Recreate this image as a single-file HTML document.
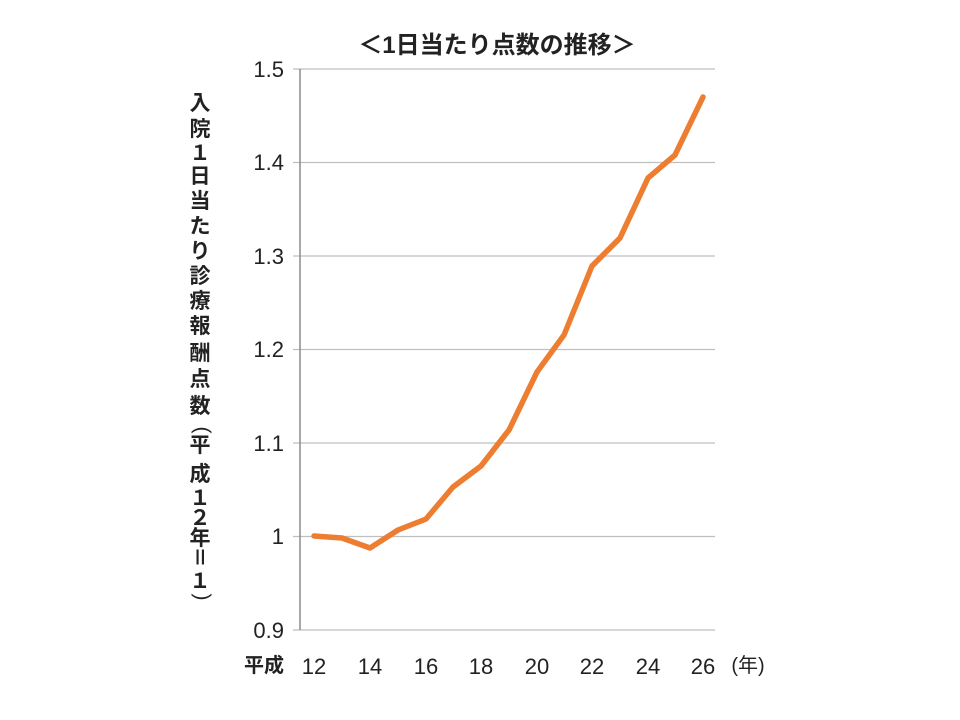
<!DOCTYPE html>
<html><head><meta charset="utf-8"><style>
body{margin:0;background:#fff;width:960px;height:720px;overflow:hidden}
svg{display:block}
text{font-family:"Liberation Sans","Noto Sans CJK JP",sans-serif;fill:#222}
</style></head><body>
<svg width="960" height="720" viewBox="0 0 960 720">
<text x="497" y="53" font-size="24" font-weight="bold" text-anchor="middle">＜1日当たり点数の推移＞</text>
<g stroke="#bfbfbf" stroke-width="1.3">
<line x1="293" y1="69" x2="715" y2="69"/>
<line x1="293" y1="162.5" x2="715" y2="162.5"/>
<line x1="293" y1="256" x2="715" y2="256"/>
<line x1="293" y1="349.5" x2="715" y2="349.5"/>
<line x1="293" y1="443" x2="715" y2="443"/>
<line x1="293" y1="536.5" x2="715" y2="536.5"/>
<line x1="293" y1="630" x2="715" y2="630"/>
</g>
<line x1="300" y1="69" x2="300" y2="630" stroke="#8c8c8c" stroke-width="1.5"/>
<g font-size="22" text-anchor="end">
<text x="284" y="77">1.5</text>
<text x="284" y="170">1.4</text>
<text x="284" y="264">1.3</text>
<text x="284" y="357">1.2</text>
<text x="284" y="451">1.1</text>
<text x="284" y="544">1</text>
<text x="284" y="638">0.9</text>
</g>
<g font-size="22" text-anchor="middle">
<text x="314" y="674">12</text>
<text x="370" y="674">14</text>
<text x="426" y="674">16</text>
<text x="481" y="674">18</text>
<text x="537" y="674">20</text>
<text x="592" y="674">22</text>
<text x="648" y="674">24</text>
<text x="703" y="674">26</text>
</g>
<text x="264" y="672" font-size="20" font-weight="bold" text-anchor="middle">平成</text>
<text x="748" y="672" font-size="20" text-anchor="middle">(年)</text>
<polyline fill="none" stroke="#ed7d31" stroke-width="5.5" stroke-linejoin="round" stroke-linecap="round"
points="314,536 342,538 370,548 398,530 426,519 453,487 481,466 509,430 537,372 564,335 592,266 620,238 648,178 675,155 703,97"/>
<g font-size="21" font-weight="bold" text-anchor="middle">
<text x="200" y="110">入</text>
<text x="200" y="136">院</text>
<text x="200" y="160">１</text>
<text x="200" y="183">日</text>
<text x="200" y="208">当</text>
<text x="200" y="233">た</text>
<text x="200" y="258">り</text>
<text x="200" y="283">診</text>
<text x="200" y="308">療</text>
<text x="200" y="333">報</text>
<text x="200" y="360">酬</text>
<text x="200" y="386">点</text>
<text x="200" y="413">数</text>
<text x="200" y="434" font-weight="normal" transform="rotate(90 200 430)">(</text>
<text x="200" y="452">平</text>
<text x="200" y="481">成</text>
<text x="200" y="505">１</text>
<text x="200" y="525">２</text>
<text x="200" y="545">年</text>
<text x="200" y="565" transform="rotate(90 200 557)">＝</text>
<text x="200" y="588">１</text>
<text x="200" y="601" font-weight="normal" transform="rotate(90 200 597)">)</text>
</g>
</svg>
</body></html>
